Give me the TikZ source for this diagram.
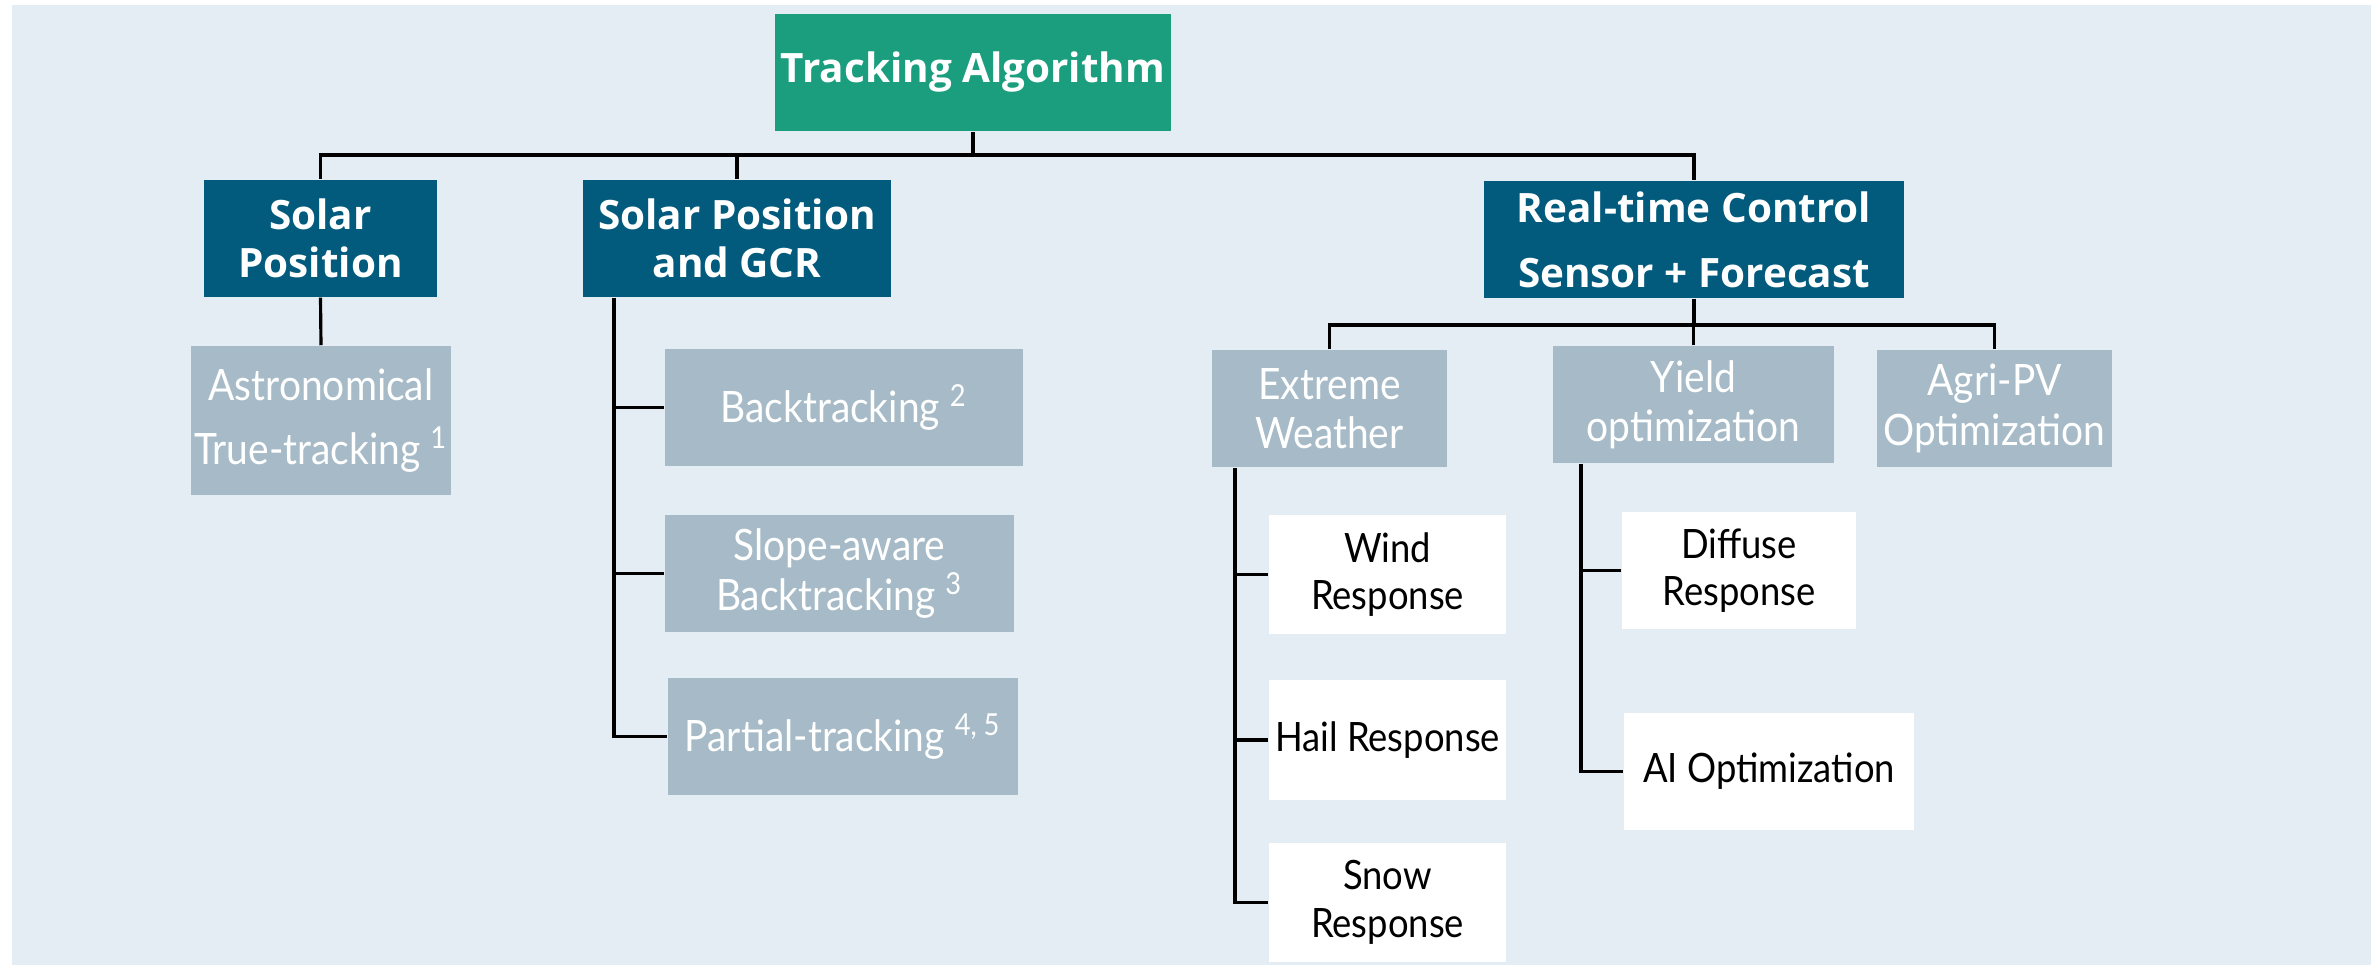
\documentclass[tikz,border=0pt]{standalone}
\usepackage{fontspec}
\setmainfont{Open Sans}
\newfontfamily\lightfont[FakeStretch=0.9]{Lato}
\usepackage{tikz}
\usetikzlibrary{positioning}

\definecolor{algogreen}{HTML}{1A9E7E}
\definecolor{headblue}{HTML}{025A7C}
\definecolor{subgrey}{HTML}{A6BBC7}
\definecolor{backblue}{HTML}{E4EDF3}

\tikzset{
  box/.style={rectangle, align=center, inner sep=0pt, minimum height=1.17cm,
    font=\lightfont\fontsize{11.5}{13.5}\selectfont},
  topbox/.style={box, fill=algogreen, text=white, font=\fontsize{11.5}{13}\selectfont\bfseries},
  headbox/.style={box, fill=headblue, text=white, font=\fontsize{11.5}{13.5}\selectfont\bfseries},
  subbox/.style={box, fill=subgrey, text=white, font=\lightfont\fontsize{12.3}{14}\selectfont},
  leafbox/.style={box, fill=white, text=black},
  link/.style={line width=0.9pt, black}
}

\begin{document}
\begin{tikzpicture}[x=0.01cm, y=-0.01cm]
        \useasboundingbox (0,0) rectangle (2376,965);
        \fill[backblue] (12,5) rectangle (2371,965);
        % levels
        \coordinate (topbar) at (0,155);
        \coordinate (rtcbar) at (0,325);
        % top
        \node[topbox, minimum width=3.96cm] (algo) at (973,72.5) {Tracking Algorithm};
        % second row
        \node[headbox, minimum width=2.33cm] (solar) at (320.5,238.5) {Solar\\Position};
        \node[headbox, minimum width=3.08cm] (gcr) at (737,238.5) {Solar Position\\and GCR};
        \node[headbox, minimum width=4.20cm] (rtc) at (1694,239.5) {Real-time Control\\[5pt]Sensor + Forecast};
        % left branches
        \node[subbox, minimum width=2.60cm, minimum height=1.49cm] (astro) at (321,420.5)
                {Astronomical\\[4pt]True-tracking \textsuperscript{1}};
        \node[subbox, minimum width=3.58cm] (back) at (844,407.5) {Backtracking \textsuperscript{2}};
        \node[subbox, minimum width=3.49cm] (slope) at (839.5,573.5) {Slope-aware\\Backtracking \textsuperscript{3}};
        \node[subbox, minimum width=3.50cm] (partial) at (843,736.5) {Partial-tracking \textsuperscript{4, 5}};
        % real-time branches
        \node[subbox, minimum width=2.35cm] (extreme) at (1329.5,408.5) {Extreme\\Weather};
        \node[subbox, minimum width=2.81cm] (yield) at (1693.5,404.5) {Yield\\optimization};
        \node[subbox, minimum width=2.35cm] (agri) at (1994.5,408.5) {Agri-PV\\Optimization};
        \node[leafbox, minimum width=2.37cm, minimum height=1.19cm] (wind) at (1387.5,574.5) {Wind\\Response};
        \node[leafbox, minimum width=2.37cm, minimum height=1.20cm] (hail) at (1387.5,740) {Hail Response};
        \node[leafbox, minimum width=2.37cm, minimum height=1.19cm] (snow) at (1387.5,902.5) {Snow\\Response};
        \node[leafbox, minimum width=2.34cm] (diffuse) at (1739,570.5) {Diffuse\\Response};
        \node[leafbox, minimum width=2.90cm] (aiopt) at (1769,771.5) {AI Optimization};
        % connectors from the top
        \draw[link] (algo.south) -- (algo.south |- topbar);
        \draw[link] (solar.north) |- (rtc.north |- topbar) -- (rtc.north);
        \draw[link] (gcr.north) -- (gcr.north |- topbar);
        \draw[link] (solar.south) -- (astro.north);
        % solar position and gcr
        \coordinate (gcrline) at (614,0);
        \draw[link] (gcrline |- gcr.south) |- (partial.west);
        \draw[link] (gcrline |- back.west) -- (back.west);
        \draw[link] (gcrline |- slope.west) -- (slope.west);
        % real-time control
        \draw[link] (rtc.south) -- (rtc.south |- rtcbar);
        \draw[link] (extreme.north) |- (agri.north |- rtcbar) -- (agri.north);
        \draw[link] (yield.north) -- (yield.north |- rtcbar);
        \coordinate (extline) at (1235,0);
        \draw[link] (extline |- extreme.south) |- (snow.west);
        \draw[link] (extline |- wind.west) -- (wind.west);
        \draw[link] (extline |- hail.west) -- (hail.west);
        \coordinate (yldline) at (1581,0);
        \draw[link] (yldline |- yield.south) |- (aiopt.west);
        \draw[link] (yldline |- diffuse.west) -- (diffuse.west);
\end{tikzpicture}
\end{document}
